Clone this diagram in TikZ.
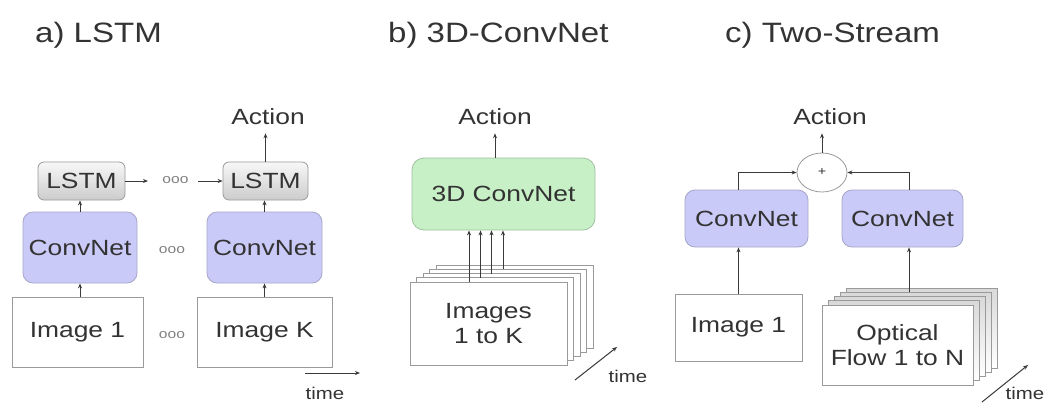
\documentclass[tikz,border=0pt]{standalone}
\usepackage{fontspec}
\setmainfont{Liberation Sans}[FakeStretch=1.2]
\newfontfamily\titlefamily{Liberation Sans}[FakeStretch=1.18]
\usetikzlibrary{arrows.meta,shapes.geometric,calc}
\definecolor{txt}{HTML}{333333}
\definecolor{linec}{HTML}{3A3A3A}
\definecolor{boxc}{HTML}{9A9A9A}
\definecolor{cnfill}{HTML}{CACAF8}
\definecolor{cndraw}{HTML}{A6A6C8}
\definecolor{grfill}{HTML}{C8F0C6}
\definecolor{grdraw}{HTML}{A0C0A0}
\newcommand\bodyfnt{\fontsize{22}{25}\selectfont}
\newcommand\titlefnt{\titlefamily\fontsize{28}{32}\selectfont}
\tikzset{
  base/.style={inner sep=0pt, text=txt, font=\bodyfnt},
  lstmbox/.style={base, draw=boxc, line width=0.8pt, rounded corners=6pt, top color=gray!6, bottom color=gray!40, minimum height=38pt},
  cnet/.style={base, draw=cndraw, fill=cnfill, line width=0.8pt, rounded corners=10pt},
  greenbox/.style={base, draw=grdraw, fill=grfill, line width=0.8pt, rounded corners=12pt},
  imgbox/.style={base, draw=boxc, fill=white, line width=0.8pt, align=center},
  flowlayer/.style={draw=boxc, line width=0.8pt, top color=gray!30, middle color=white, bottom color=white, inner sep=0pt},
  actlabel/.style={base, inner sep=8pt},
  plusnode/.style={ellipse, draw=boxc, line width=0.8pt, minimum width=50pt, minimum height=39pt, inner sep=0pt, font=\fontsize{12}{12}\selectfont, text=txt},
  dotsl/.style={text=gray, font=\fontsize{13}{13}\selectfont, inner sep=0pt},
  timel/.style={text=txt, font=\fontsize{17}{17}\selectfont, inner sep=0pt},
  titlel/.style={text=txt, font=\titlefnt, inner sep=0pt, anchor=base west},
  arr/.style={draw=linec, line width=1pt, -{Stealth[length=5pt,width=4pt]}}
}
\begin{document}
\begin{tikzpicture}[x=1pt,y=-1pt]
\fill[white] (0,0) rectangle (1045,402);
\useasboundingbox (0,0) rectangle (1045,402);

% titles
\node[titlel] (ta) at (35,42) {a) LSTM};
\node[titlel] (tb) at (388,42) {b) 3D-ConvNet};
\node[titlel] (tc) at (725,42) {c) Two-Stream};

% ---------- a) LSTM ----------
\node[actlabel] (acta) at (268,117) {Action};
\node[lstmbox, minimum width=87pt] (ls1) at (81.5,181) {LSTM};
\node[lstmbox, minimum width=85pt] (ls2) at (265.5,181) {LSTM};
\node[cnet, minimum width=114pt, minimum height=71pt] (cn1) at (80,247.5) {ConvNet};
\node[cnet, minimum width=115pt, minimum height=71pt] (cn2) at (264.5,247.5) {ConvNet};
\node[imgbox, minimum width=131pt, minimum height=70pt] (im1) at (77.5,332) {Image 1};
\node[imgbox, minimum width=135pt, minimum height=70pt] (imK) at (264.5,332) {Image K};
\node[dotsl] (d1) at (175.5,180) {ooo};
\node[dotsl] (d2) at (172,250) {ooo};
\node[dotsl] (d3) at (172,335) {ooo};
\coordinate (ae) at (148,181);
\coordinate (as) at (198,181);
\draw[arr] (cn1.south |- im1.north) -- (cn1.south);
\draw[arr] (cn1.north) -- (cn1.north |- ls1.south);
\draw[arr] (cn2.south |- imK.north) -- (cn2.south);
\draw[arr] (cn2.north) -- (cn2.north |- ls2.south);
\draw[arr] (ls2.north) -- (ls2.north |- acta.south);
\draw[arr] (ls1.east) -- (ae);
\draw[arr] (as) -- (ls2.west);
\coordinate (ta1) at (305,373);
\coordinate (ta2) at (360,373);
\draw[arr] (ta1) -- (ta2);
\node[timel] (tla) at (325,393) {time};

% ---------- b) 3D-ConvNet ----------
\node[actlabel] (actb) at (495,117) {Action};
\node[greenbox, minimum width=183pt, minimum height=72pt] (c3d) at (503.5,194) {3D ConvNet};
\draw[arr] (c3d.north -| actb) -- (actb.south);
\foreach \k in {4,3,2,1}
  \node[imgbox, minimum width=157pt, minimum height=83pt] (bl\k) at ({488.5+6.5*\k},{323.5-4.25*\k}) {};
\node[imgbox, minimum width=157pt, minimum height=83pt] (imb) at (488.5,323.5) {Images\\1 to K};
\coordinate (s0) at (469,282);
\coordinate (s1) at (480.5,277.8);
\coordinate (s2) at (491.5,273.5);
\coordinate (s3) at (503,269.3);
\foreach \s in {s0,s1,s2,s3}
  \draw[arr] (\s) -- (\s |- c3d.south);
\coordinate (tb1) at (575,380);
\coordinate (tb2) at (617,347);
\draw[arr] (tb1) -- (tb2);
\node[timel] (tlb) at (628,376) {time};

% ---------- c) Two-Stream ----------
\node[actlabel] (actc) at (830,117) {Action};
\node[plusnode] (pl) at (822,172.5) {+};
\draw[arr] (pl.north) -- (pl.north |- actc.south);
\node[cnet, minimum width=123pt, minimum height=57pt] (cvl) at (746.5,218.5) {ConvNet};
\node[cnet, minimum width=121pt, minimum height=57pt] (cvr) at (902.5,218.5) {ConvNet};
\node[imgbox, minimum width=127pt, minimum height=67pt] (imc) at (738.5,327.5) {Image 1};
\draw[arr] (imc.north) -- (imc.north |- cvl.south);
\draw[arr] (cvl.north -| imc.north) |- (pl.west);
\foreach \k in {4,3,2,1}
  \node[flowlayer, minimum width=151pt, minimum height=80pt] (fl\k) at ({897.5+6*\k},{345-4.25*\k}) {};
\node[imgbox, minimum width=151pt, minimum height=80pt] (flw) at (897.5,345) {Optical\\Flow 1 to N};
\coordinate (fr) at (909,292);
\draw[arr] (fr) -- (fr |- cvr.south);
\draw[arr] (cvr.north -| fr) |- (pl.east);
\coordinate (tc1) at (982,402);
\coordinate (tc2) at (1028,365);
\draw[arr] (tc1) -- (tc2);
\node[timel] (tlc) at (1025,393) {time};
\end{tikzpicture}
\end{document}
